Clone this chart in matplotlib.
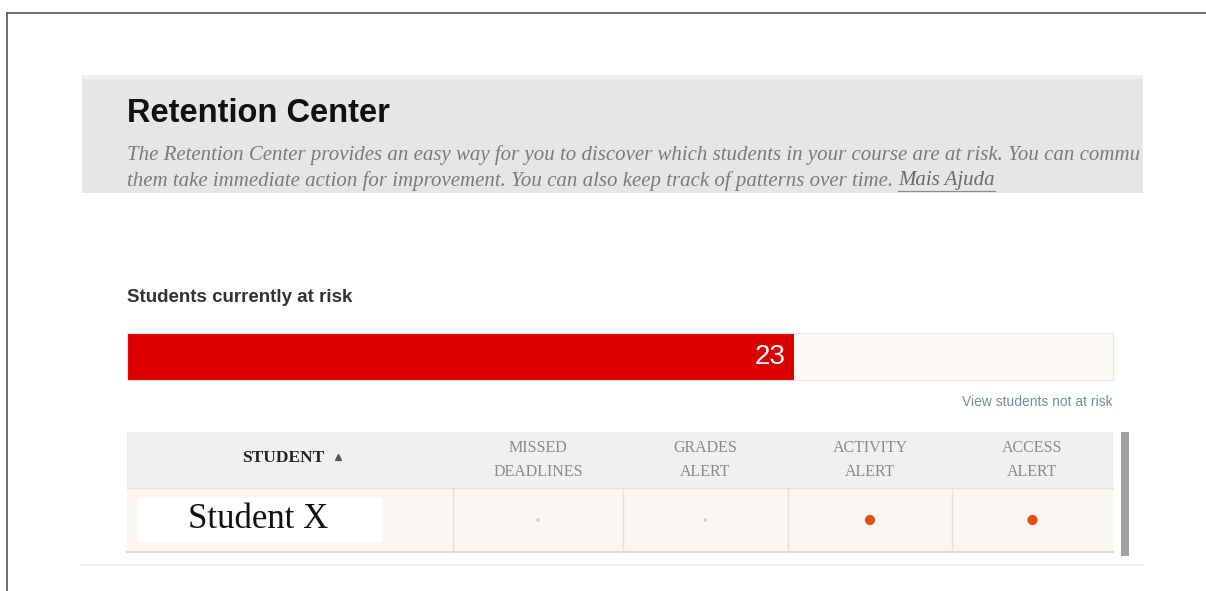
import matplotlib.pyplot as plt
from matplotlib.patches import Rectangle

## values
title = "Retention Center"
desc_line1 = ("The Retention Center provides an easy way for you to discover which students "
              "in your course are at risk. You can commu")
desc_line2 = "them take immediate action for improvement. You can also keep track of patterns over time. "
help_link = "Mais Ajuda"
at_risk_label = "Students currently at risk"
at_risk = 23
total_students = 34
not_at_risk_link = "View students not at risk"
headers = ["STUDENT", "MISSED\nDEADLINES", "GRADES\nALERT", "ACTIVITY\nALERT", "ACCESS\nALERT"]
student = "Student X"
alerts = [False, False, True, True]   # missed, grades, activity, access

W, H = 1206, 591
fig = plt.figure(figsize=(W / 100, H / 100), dpi=100)
ax = fig.add_axes([0, 0, 1, 1])
ax.set_xlim(0, W)
ax.set_ylim(H, 0)
ax.axis("off")

## frame of the screenshot
ax.plot([7, W], [13, 13], color="#555555", lw=1.2)
ax.plot([7, 7], [13, H], color="#555555", lw=1.2)

## grey header panel
panel = Rectangle((82, 75), 1061, 118, facecolor="#e6e6e6", edgecolor="none")
ax.add_patch(panel)
ax.add_patch(Rectangle((82, 75), 1061, 4, facecolor="#efefef", edgecolor="none"))
ax.text(127, 113, title, fontsize=23.5, fontweight="bold", family="Liberation Sans",
        color="#111111", va="center")
t1 = ax.text(127, 155, desc_line1, fontsize=15, style="italic", family="Liberation Serif",
             color="#7a7a7a", va="center", clip_on=True)
t1.set_clip_path(panel)
t2 = ax.text(127, 181, desc_line2, fontsize=15, style="italic", family="Liberation Serif",
             color="#7a7a7a", va="center")
fig.canvas.draw()
bb = t2.get_window_extent()
t3 = ax.text(bb.x1, 181, help_link, fontsize=15, style="italic", family="Liberation Serif",
             color="#6a6a6a", va="center")
fig.canvas.draw()
bb3 = t3.get_window_extent()
ax.plot([bb3.x0, bb3.x1], [191, 191], color="#8a8a8a", lw=0.8)

## content area bottom line
ax.plot([82, 1143], [565, 565], color="#eeeeee", lw=1.5)

ax.text(127, 298, at_risk_label, fontsize=13.5, fontweight="bold", family="Liberation Sans",
        color="#333333", va="center")

## at risk bar
bx0, bx1, by0, by1 = 127, 1113, 333, 380
bar_ax = fig.add_axes([bx0 / W, 1 - by1 / H, (bx1 - bx0) / W, (by1 - by0) / H])
bar_ax.set_xlim(0, total_students)
bar_ax.set_ylim(-0.5, 0.5)
bar_ax.set_facecolor("#fcf8f4")
bar_ax.barh(0, at_risk, height=1, color="#dd0000")
bar_ax.set_xticks([])
bar_ax.set_yticks([])
for s in bar_ax.spines.values():
    s.set_color("#ebe6e0")
bar_ax.annotate(str(at_risk), (at_risk, 0), xytext=(-8, 0), textcoords="offset pixels",
                ha="right", va="center", fontsize=20, color="white", family="Liberation Sans")

ax.text(1113, 402, not_at_risk_link, fontsize=10, family="Liberation Sans",
        color="#6d8f9c", ha="right", va="center")

## table
cols = [127, 453, 623, 788, 952, 1113]
hy0, hy1, ry1 = 432, 488, 552
ax.add_patch(Rectangle((cols[0], hy0), cols[-1] - cols[0], hy1 - hy0,
                       facecolor="#f0f0f0", edgecolor="none"))
ax.add_patch(Rectangle((cols[0], hy1), cols[-1] - cols[0], ry1 - hy1,
                       facecolor="#faf7f2", edgecolor="none"))
ax.plot([cols[0], cols[-1]], [hy1, hy1], color="#e4e0da", lw=1)
ax.plot([cols[0], cols[-1]], [ry1, ry1], color="#dedad4", lw=1.5)
for x in cols[1:-1]:
    ax.plot([x, x], [hy1, ry1], color="#e4e0da", lw=1)

ax.text(283, 458, headers[0], fontsize=12.5, fontweight="bold", family="Liberation Serif",
        color="#222222", ha="center", va="center")
ax.scatter([338], [457], marker="^", s=18, color="#555555")
for i, h in enumerate(headers[1:]):
    cx = (cols[i + 1] + cols[i + 2]) / 2
    ax.text(cx, 460, h, fontsize=11.5, family="Liberation Serif", color="#8a8a8a",
            ha="center", va="center", linespacing=1.6)

ax.add_patch(Rectangle((137, 498), 245, 44, facecolor="white", edgecolor="none"))
ax.text(258, 520, student, fontsize=25, family="Liberation Serif", color="#111111",
        ha="center", va="center")
for i, flag in enumerate(alerts):
    cx = (cols[i + 1] + cols[i + 2]) / 2
    if flag:
        ax.scatter([cx], [520], s=55, color="#e0521c", edgecolor="none")
    else:
        ax.scatter([cx], [520], s=6, color="#cccccc", edgecolor="none")

## scrollbar
ax.add_patch(Rectangle((1121, 432), 8, 124, facecolor="#a0a0a0", edgecolor="none"))

fig.savefig("out.png", dpi=100)
